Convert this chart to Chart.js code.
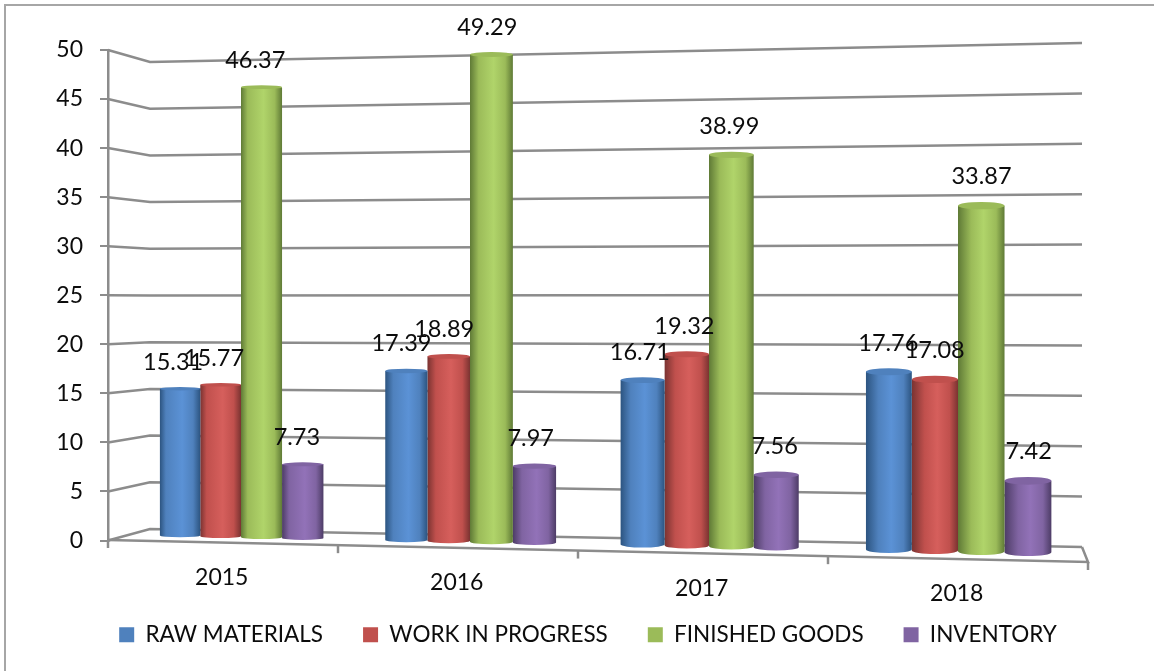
<!DOCTYPE html>
<html>
<head>
<meta charset="utf-8">
<script src="https://cdn.jsdelivr.net/npm/chart.js@4/dist/chart.umd.js"></script>
<style>
  html, body { margin: 0; padding: 0; background: #fff; overflow: hidden; }
  canvas { display: block; }
</style>
</head>
<body>
<canvas id="myBar" width="1154" height="671"></canvas>
<script>
var years = ['2015', '2016', '2017', '2018'];
var rawMaterials = [15.31, 17.39, 16.71, 17.76];
var workInProgress = [15.77, 18.89, 19.32, 17.08];
var finishedGoods = [46.37, 49.29, 38.99, 33.87];
var inventory = [7.73, 7.97, 7.56, 7.42];

var gridColor = '#8c8c8c';
var textColor = '#0c0c0c';

// base, light, dark shade of each cylinder
var shades = [
    ['#4f81bd', '#5b92d6', '#2c5480'],
    ['#c0504d', '#d65f5c', '#7a3331'],
    ['#9bbb59', '#b0d46a', '#5f7a36'],
    ['#8064a2', '#9272b8', '#4d3c66']
];

// excel style 3d look, everything still comes from the chart scales
function frontX(u) { return 108 + 900 * u + 80 * u * u; }
function frontY(x) { return 540 + (x - 108) * 22 / 980; }
function barX(u) { return 130.25 + 876 * u + 80 * u * u; }
function barBase(x) { return 539 + (x - 261) * 0.0223; }
function barScale(x) { return 0.993 + (x - 261) * 0.000089; }
function wallY(x, f) {
    var t = (x - 150) / 932;
    var top = 62 - 19 * t;
    var bottom = 529 + 18 * t;
    return top + (bottom - top) * f;
}

function line(ctx, x1, y1, x2, y2) {
    ctx.beginPath();
    ctx.moveTo(x1, y1);
    ctx.lineTo(x2, y2);
    ctx.stroke();
}

function barBox(chart, el) {
    var area = chart.chartArea;
    var w = area.right - area.left;
    var half = el.width / 2;
    var l = barX((el.x - half - area.left) / w);
    var r = barX((el.x + half - area.left) / w);
    var cx = (l + r) / 2;
    var bottom = barBase(cx);
    var top = bottom - (el.base - el.y) * barScale(cx) - 3;
    return { l: l, r: r, cx: cx, top: top, bottom: bottom, u: (el.x - area.left) / w };
}

var perspective = {
    id: 'perspective',
    afterLayout: function (chart) {
        // legend sits right of the plot centre in the original
        chart.legend.left += 44;
        chart.legend.right += 44;
    },
    beforeDraw: function (chart) {
        var ctx = chart.ctx;
        ctx.save();
        ctx.strokeStyle = '#a6a6a6';
        ctx.lineWidth = 2;
        ctx.beginPath();
        ctx.moveTo(5, 671);
        ctx.lineTo(5, 5);
        ctx.lineTo(1154, 5);
        ctx.stroke();
        ctx.restore();
    },
    beforeDatasetsDraw: function (chart) {
        var ctx = chart.ctx;
        var area = chart.chartArea;
        var yScale = chart.scales.y;
        ctx.save();
        ctx.strokeStyle = gridColor;
        ctx.lineWidth = 2.5;
        yScale.ticks.forEach(function (tick) {
            var y = yScale.getPixelForValue(tick.value);
            var f = (y - area.top) / (area.bottom - area.top);
            ctx.beginPath();
            ctx.moveTo(area.left, y);
            ctx.lineTo(150, wallY(150, f));
            ctx.lineTo(1082, wallY(1082, f));
            ctx.stroke();
        });
        // floor
        ctx.beginPath();
        ctx.moveTo(1082, wallY(1082, 1));
        ctx.lineTo(1088, frontY(1088));
        ctx.lineTo(area.left, frontY(area.left));
        ctx.stroke();
        for (var i = 0; i <= years.length; i++) {
            var x = frontX(i / years.length);
            line(ctx, x, frontY(x), x, frontY(x) + 8);
        }
        ctx.restore();
    },
    beforeDatasetDraw: function (chart, args) {
        var ctx = chart.ctx;
        var s = shades[args.index];
        args.meta.data.forEach(function (el) {
            var b = barBox(chart, el);
            var ry = 1.5 + b.u * 2.5;
            var rx = (b.r - b.l) / 2;
            var g = ctx.createLinearGradient(b.l, 0, b.r, 0);
            g.addColorStop(0, s[2]);
            g.addColorStop(0.14 + b.u * 0.16, s[0]);
            g.addColorStop(0.55, s[1]);
            g.addColorStop(0.82, s[0]);
            g.addColorStop(1, s[2]);
            ctx.save();
            ctx.fillStyle = g;
            ctx.beginPath();
            ctx.moveTo(b.l, b.top + ry);
            ctx.lineTo(b.l, b.bottom - ry);
            ctx.ellipse(b.cx, b.bottom - ry, rx, ry, 0, Math.PI, 0, true);
            ctx.lineTo(b.r, b.top + ry);
            ctx.closePath();
            ctx.fill();
            ctx.fillStyle = s[0];
            ctx.beginPath();
            ctx.ellipse(b.cx, b.top + ry, rx, ry, 0, 0, Math.PI * 2);
            ctx.fill();
            ctx.restore();
        });
        return false;
    },
    afterDatasetsDraw: function (chart) {
        var ctx = chart.ctx;
        ctx.save();
        ctx.fillStyle = textColor;
        ctx.font = '23.5px Lato';
        ctx.textAlign = 'center';
        ctx.textBaseline = 'middle';
        chart.data.datasets.forEach(function (ds, d) {
            chart.getDatasetMeta(d).data.forEach(function (el, i) {
                var b = barBox(chart, el);
                ctx.fillText(ds.data[i].toFixed(2), b.cx - 7 + (b.cx - 178) * 0.009, b.top - 25);
            });
        });
        ctx.font = '23px Lato';
        years.forEach(function (year, i) {
            var x = frontX((i + 0.5) / years.length);
            ctx.fillText(year, x, frontY(x) + 35);
        });
        ctx.restore();
    }
};

new Chart(document.getElementById('myBar').getContext('2d'), {
    type: 'bar',
    data: {
        labels: years,
        datasets: [
            { label: 'RAW MATERIALS', data: rawMaterials, backgroundColor: '#4f81bd' },
            { label: 'WORK IN PROGRESS', data: workInProgress, backgroundColor: '#c0504d' },
            { label: 'FINISHED GOODS', data: finishedGoods, backgroundColor: '#9bbb59' },
            { label: 'INVENTORY', data: inventory, backgroundColor: '#8064a2' }
        ]
    },
    options: {
        responsive: false,
        animation: false,
        categoryPercentage: 0.73,
        barPercentage: 1,
        layout: { padding: { top: 50, right: 66, left: 0, bottom: 15 } },
        scales: {
            x: {
                grid: { display: false },
                border: { display: false },
                ticks: { display: false },
                afterFit: function (scale) { scale.height = 43; }
            },
            y: {
                min: 0,
                max: 50,
                ticks: { stepSize: 5, color: textColor, padding: 17, font: { family: 'Lato', size: 23 } },
                grid: { drawOnChartArea: false, tickLength: 8, color: gridColor, lineWidth: 2 },
                border: { color: gridColor, width: 2.5 },
                afterFit: function (scale) { scale.width = 108; }
            }
        },
        plugins: {
            tooltip: { enabled: false },
            legend: {
                position: 'bottom',
                labels: {
                    boxWidth: 15,
                    boxHeight: 15,
                    padding: 40,
                    color: textColor,
                    font: { family: 'Lato', size: 22.5 }
                }
            }
        }
    },
    plugins: [perspective]
});
</script>
</body>
</html>
